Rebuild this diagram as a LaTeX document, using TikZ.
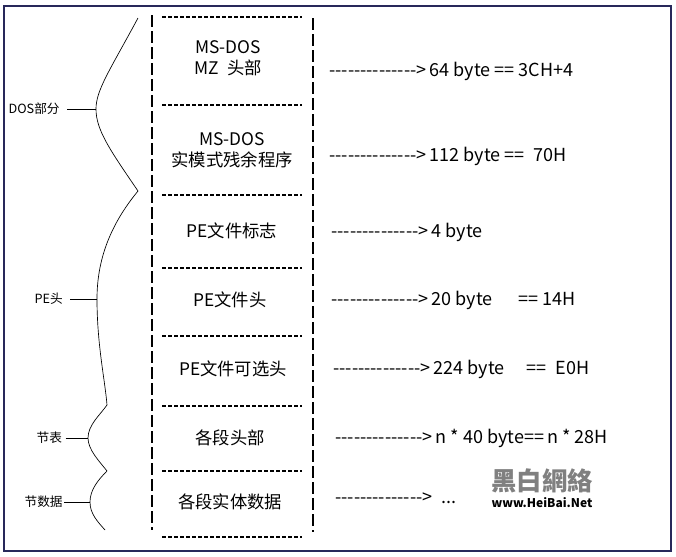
\documentclass[tikz,border=0pt]{standalone}
\usepackage{fontspec}
\setmainfont[Ligatures=TeXOff]{Noto Sans CJK SC}
\newfontfamily\lbl[Ligatures=TeXOff]{Noto Sans CJK SC}
\begin{document}
\begin{tikzpicture}[x=0.75pt,y=-0.75pt,
  box/.style={font=\fontsize{13}{15.5}\selectfont,align=center,inner sep=0pt},
  rt/.style={font=\fontsize{13.5}{15}\selectfont,anchor=west,inner sep=0pt},
  side/.style={font=\lbl\fontsize{9.5}{11}\selectfont,inner sep=1pt},
  sep/.style={dash pattern=on 3pt off 1.5pt,line width=0.9pt},
  vline/.style={dash pattern=on 9pt off 3pt,line width=0.8pt},
  curve/.style={line width=0.5pt}]
\useasboundingbox (0,0) rectangle (676,557);
\fill[white] (0,0) rectangle (676,557);
\draw[color={rgb,255:red,40;green,40;blue,90},line width=1pt] (4,6) rectangle (671,551);
% column
\coordinate (L1) at (152,15); \coordinate (L2) at (152,530);
\coordinate (R1) at (313,18); \coordinate (R2) at (313,532);
\draw[vline] (L1) -- (L2);
\draw[vline] (R1) -- (R2);
\foreach \y/\n in {17/a,105/b,195/c,268/d,336/e,406/f,471/g,537/h}{
  \coordinate (s\n1) at (162,\y); \coordinate (s\n2) at (302,\y);
  \draw[sep] (s\n1) -- (s\n2);}
\node[box] (t1) at (228,58) {MS-DOS\\MZ\enspace 头部};
\node[box] (t2) at (232,150) {MS-DOS\\实模式残余程序};
\node[box] (t3) at (232,231) {PE文件标志};
\node[box] (t4) at (230,300) {PE文件头};
\node[box] (t5) at (233,369) {PE文件可选头};
\node[box] (t6) at (230,438) {各段头部};
\node[box] (t7) at (230,502) {各段实体数据};
\node[rt] (r1) at (329,71) {-------------->\,64 byte == 3CH+4};
\node[rt] (r2) at (329,156) {-------------->\,112 byte ==\enspace 70H};
\node[rt] (r3) at (331,232) {-------------->\,4 byte};
\node[rt] (r4) at (331,300) {-------------->\,20 byte\quad\ \ == 14H};
\node[rt] (r5) at (333,369) {-------------->\,224 byte\quad\ ==\enspace E0H};
\node[rt] (r6) at (335,438) {-------------->\,n * 40 byte==\,n * 28H};
\node[rt] (r7) at (335,498) {-------------->\enspace ...};
% watermark
\node[font=\fontsize{19}{20}\selectfont\bfseries,text=gray,inner sep=0pt] (w1) at (542,481) {黑白網絡};
\node[font=\fontsize{9}{10}\selectfont\bfseries\itshape,inner sep=0pt] (w2) at (542,503) {www.HeiBai.Net};
% left labels
\node[side,anchor=west] (d) at (7,109) {DOS部分};
\node[side,anchor=west] (p) at (33,299) {PE头};
\node[side,anchor=west] (j) at (35,438) {节表};
\node[side,anchor=west] (k) at (23,502) {节数据};
\coordinate (dp) at (96,109); \coordinate (pp) at (97,299);
\coordinate (jp) at (88,438); \coordinate (kp) at (90,502);
\draw[curve] (d.east)++(6,0) -- (dp);
\draw[curve] (p.east)++(6,0) -- (pp);
\draw[curve] (j.east)++(2,0) -- (jp);
\draw[curve] (k.east) -- (kp);
\coordinate (b0) at (138,18); \coordinate (b1) at (138,191);
\coordinate (b2) at (107,405); \coordinate (b3) at (107,471); \coordinate (b4) at (105,530);
\draw[curve] (b0) .. controls (110,70) and (96,90) .. (dp) .. controls (96,130) and (110,150) .. (b1);
\draw[curve] (b1) .. controls (110,225) and (97,260) .. (pp) .. controls (97,345) and (105,380) .. (b2);
\draw[curve] (b2) .. controls (100,415) and (88,425) .. (jp) .. controls (88,450) and (100,462) .. (b3);
\draw[curve] (b3) .. controls (98,480) and (90,490) .. (kp) .. controls (90,514) and (98,522) .. (b4);
\end{tikzpicture}
\end{document}
